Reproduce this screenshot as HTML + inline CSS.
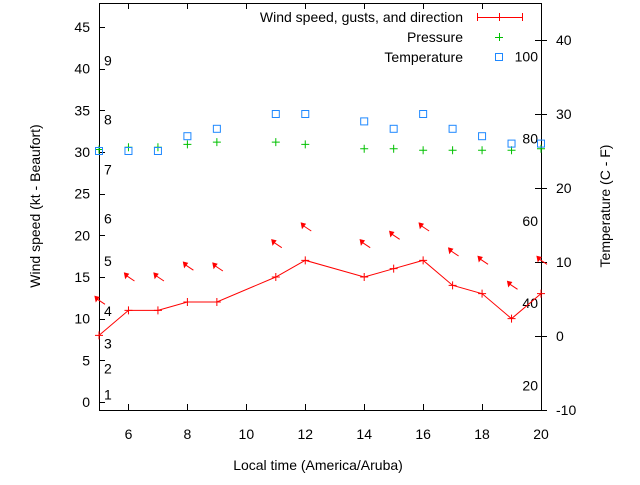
<!DOCTYPE html>
<html><head><meta charset="utf-8"><style>
body{margin:0;background:#fff}
svg{font-family:"Liberation Sans",sans-serif;font-size:14px}
</style></head><body>
<svg id="c" width="640" height="480"></svg>
<script>
const hours=[5,6,7,8,9,11,12,14,15,16,17,18,19,20];
const wind=[8,11,11,12,12,15,17,15,16,17,14,13,10,13];
const gusts=[12.2,15,15,16.3,16.2,19,21,19,20,21,18,17,14,17];
const temps=[25,25,25,27,28,30,30,29,28,30,28,27,26,26];
const pressure=[25.2,25.5,25.5,25.9,26.2,26.2,25.9,25.3,25.3,25.1,25.1,25.1,25.1,25.3];
const xTicks=[6,8,10,12,14,16,18,20];
const yTicks=[0,5,10,15,20,25,30,35,40,45];
const y2Ticks=[-10,0,10,20,30,40];
const beaufort=[[1,0.9],[2,4],[3,7],[4,10.9],[5,16.9],[6,22],[7,27.9],[8,33.9],[9,41]];
const fahr=[20,40,60,80,100];
const L=99,R=541,T=3,B=410;
const X=v=>L+(v-5)*(R-L)/15;
const Y=v=>402-v*8.333;
const Y2=v=>336-v*7.4;
const svg=document.getElementById('c');
const NS='http://www.w3.org/2000/svg';
function mk(tag,attrs,parent){const e=document.createElementNS(NS,tag);for(const k in attrs)e.setAttribute(k,attrs[k]);(parent||svg).appendChild(e);return e;}
function txt(x,y,s,anchor,g){const t=mk('text',{x:x,y:y,'text-anchor':anchor||'start',fill:'#000'},g);t.textContent=s;return t;}
// frame
const frame=mk('path',{d:`M${L+0.5},${T+0.5}H${R+0.5}V${B+0.5}H${L+0.5}Z`,fill:'none',stroke:'#000','stroke-width':1});


const xg=mk('g',{});


xTicks.forEach(v=>{const x=Math.round(X(v))+0.5;mk('line',{x1:x,y1:B,x2:x,y2:B-6,stroke:'#000'},xg);mk('line',{x1:x,y1:T,x2:x,y2:T+6,stroke:'#000'},xg);
const t=txt(X(v),439,String(v),'middle',xg);

});
const yg=mk('g',{});


yTicks.forEach(v=>{const y=Math.round(Y(v))+0.5;mk('line',{x1:L,y1:y,x2:L+6,y2:y,stroke:'#000'},yg);
const t=txt(L-9,Y(v)+5,String(v),'end',yg);

});
const y2g=mk('g',{});


y2Ticks.forEach(v=>{const y=Math.round(Y2(v))+0.5;mk('line',{x1:R-6,y1:y,x2:R+6,y2:y,stroke:'#000'},y2g);
const t=txt(R+15,Y2(v)+5,String(v),'start',y2g);

});
beaufort.forEach(([s,v])=>{const t=txt(104,Y(v)+5,String(s));

});
fahr.forEach(f=>{const t=txt(538,Y2((f-32)*5/9)+5,String(f),'end');

});
let t=txt(318,470,'Local time (America/Aruba)','middle');


t=txt(0,0,'Wind speed (kt - Beaufort)','middle');t.setAttribute('transform','translate(40,206) rotate(-90)');


t=txt(0,0,'Temperature (C - F)','middle');t.setAttribute('transform','translate(610,206) rotate(-90)');


const pts=hours.map((h,i)=>X(h)+','+Y(wind[i])).join(' ');
const pl=mk('polyline',{points:pts,fill:'none',stroke:'#f00','stroke-width':1});


hours.forEach((h,i)=>{const x=X(h),y=Y(wind[i]);const p=mk('path',{d:`M${x-4},${y}H${x+4}M${x},${y-4}V${y+4}`,stroke:'#f00'});

});
hours.forEach((h,i)=>{const x=X(h),y=Y(gusts[i]);const g=mk('g',{});


mk('line',{x1:x+6,y1:y+4,x2:x-3,y2:y-2,stroke:'#f00','stroke-width':1},g);
mk('polygon',{points:`${x-4},${y-4} ${x},${y-3} ${x-3},${y+1}`,fill:'#f00',stroke:'#f00'},g);});
hours.forEach((h,i)=>{const x=X(h),y=Y2(pressure[i]);const p=mk('path',{d:`M${x-4},${y}H${x+4}M${x},${y-4}V${y+4}`,stroke:'#00c000'});

});
hours.forEach((h,i)=>{const x=X(h),y=Y2(temps[i]);const r=mk('rect',{x:x-3.5,y:y-3.5,width:7,height:7,fill:'none',stroke:'#1e88ff'});

});
const lg=mk('g',{});


txt(463,22,'Wind speed, gusts, and direction','end',lg);
mk('path',{d:'M477,17.5H522M477.5,13V21M499.5,13V21M522.5,13V21',stroke:'#f00'},lg);
txt(463,42,'Pressure','end',lg);
mk('path',{d:'M495,37.5H503M499.5,33V41',stroke:'#00c000'},lg);
txt(463,62,'Temperature','end',lg);
mk('rect',{x:495.5,y:53.5,width:7,height:7,fill:'none',stroke:'#1e88ff'},lg);
</script>
</body></html>
